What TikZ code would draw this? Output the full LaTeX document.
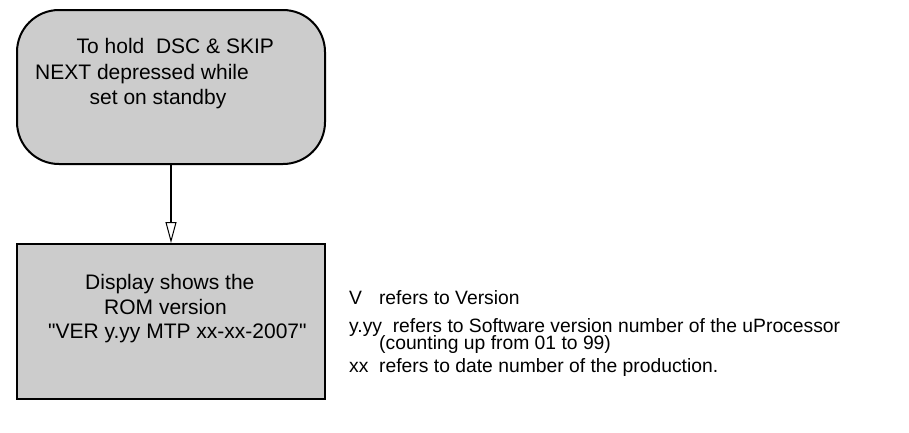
\documentclass[tikz,border=0pt]{standalone}
\usepackage{fontspec}
\setmainfont{Liberation Sans}[Ligatures=TeXOff]
\usetikzlibrary{arrows.meta}
\begin{document}
\begin{tikzpicture}[x=1pt,y=-1pt,
  box/.style={draw=black,line width=2pt,fill=boxgray,inner sep=0pt},
  boxtext/.style={anchor=base west,inner sep=0pt,font=\fontsize{21}{24}\selectfont},
  note/.style={anchor=base west,inner sep=0pt,font=\fontsize{19.3}{23}\selectfont},
  flow/.style={line width=2pt,-{Triangle[open,length=21pt,width=11pt,line width=1pt]}}]
\definecolor{boxgray}{HTML}{CCCCCC}
\useasboundingbox (0,0) rectangle (909,432);
\node[box,rounded corners=42pt,minimum width=308pt,minimum height=154pt] (hold) at (171,87) {};
\node[box,minimum width=308pt,minimum height=155pt] (disp) at (171,321.5) {};
\node[boxtext] (h1) at (76.5,53) {To hold\ \ DSC \& SKIP};
\node[boxtext] (h2) at (35,79) {NEXT depressed while};
\node[boxtext] (h3) at (89.5,104) {set on standby};
\node[boxtext] (d1) at (85,289.5) {Display shows the};
\node[boxtext] (d2) at (104,314) {ROM version};
\node[boxtext] (d3) at (48,338) {"VER y.yy MTP xx-xx-2007"};
\node[note] (n1) at (349,304) {V\hspace{17pt}refers to Version};
\node[note] (n2) at (349,332) {y.yy\ \ refers to Software version number of the uProcessor};
\node[note] (n3) at (379,349.5) {(counting up from 01 to 99)};
\node[note] (n4) at (349,372) {xx\ \ refers to date number of the production.};
\draw[flow] (hold.south) -- (disp.north);
\end{tikzpicture}
\end{document}
